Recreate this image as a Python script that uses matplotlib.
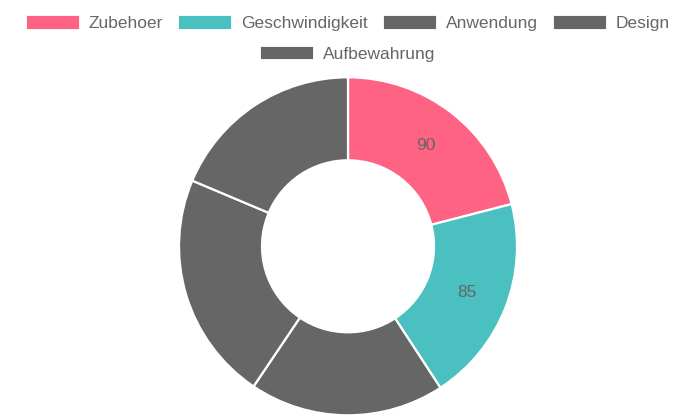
import matplotlib
matplotlib.use("Agg")
import matplotlib.pyplot as plt
from matplotlib.patches import Rectangle

# ---- data ----
labels = ["Zubehoer", "Geschwindigkeit", "Anwendung", "Design", "Aufbewahrung"]
values = [90, 85, 80, 94, 80]
colors = ["#FF6384", "#4BC0C0", "#666666", "#666666", "#666666"]

TXT = "#666666"
FS = 12.5  # pt
W, H = 696, 418

plt.rcParams["font.family"] = ["Liberation Sans", "DejaVu Sans"]

fig = plt.figure(figsize=(W / 100, H / 100), dpi=100)
ax = fig.add_axes([0, 0, 1, 1])
ax.set_xlim(0, W)
ax.set_ylim(0, H)
ax.set_aspect("equal")
ax.axis("off")

total = sum(values)
cx, cy = 348, H - 246.3
R, r_in = 169, 86

wedges, texts, autotexts = ax.pie(
    values,
    colors=colors,
    startangle=90,
    counterclock=False,
    radius=R,
    center=(cx, cy),
    wedgeprops=dict(width=R - r_in, edgecolor="white", linewidth=1.6),
    autopct=lambda p: f"{p * total / 100:.0f}",
    pctdistance=((R + r_in) / 2) / R,
    textprops=dict(color=TXT, fontsize=FS),
    frame=True,
)
ax.set_xlim(0, W)
ax.set_ylim(0, H)
ax.axis("off")

# ---- legend (Chart.js-like, centered rows) ----
box_w, box_h = 53, 13.5
gap_box_txt = 10
pad_items = 15
row_centers = [22.2, 52.7]  # px from top
max_row_w = W - 20

fig.canvas.draw()
renderer = fig.canvas.get_renderer()

def text_width(s):
    t = ax.text(0, 0, s, fontsize=FS)
    bb = t.get_window_extent(renderer=renderer)
    t.remove()
    return bb.width

items = [(lab, col, text_width(lab)) for lab, col in zip(labels, colors)]
rows = [[]]
cur = 0
for it in items:
    w_it = box_w + gap_box_txt + it[2]
    add = w_it if not rows[-1] else pad_items + w_it
    if rows[-1] and cur + add > max_row_w:
        rows.append([])
        cur = 0
        add = w_it
    rows[-1].append(it)
    cur += add

for ri, row in enumerate(rows):
    row_w = sum(box_w + gap_box_txt + it[2] for it in row) + pad_items * (len(row) - 1)
    x = (W - row_w) / 2
    yc = H - row_centers[ri]
    for lab, col, tw in row:
        ax.add_patch(Rectangle((x, yc - box_h / 2), box_w, box_h,
                               facecolor=col, edgecolor="white", linewidth=0.6,
                               clip_on=False))
        ax.text(x + box_w + gap_box_txt, yc - 6.2, lab, fontsize=FS,
                color=TXT, va="baseline", ha="left")
        x += box_w + gap_box_txt + tw + pad_items

fig.savefig("out.png", dpi=100)
